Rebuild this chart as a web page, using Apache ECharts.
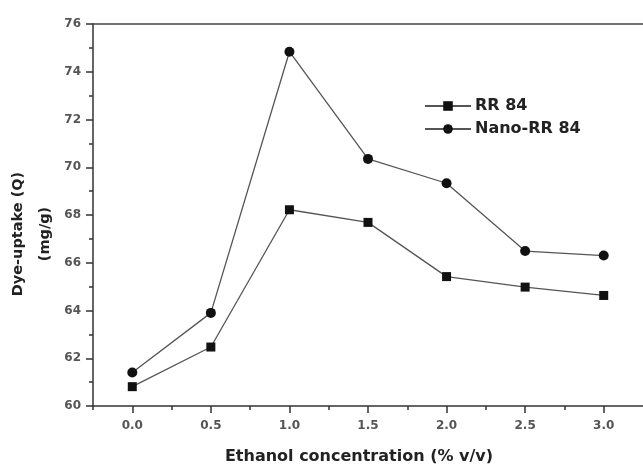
<!DOCTYPE html>
<html>
<head>
<meta charset="utf-8">
<script src="https://cdn.jsdelivr.net/npm/echarts@6/dist/echarts.min.js"></script>
<style>html,body{margin:0;padding:0;background:#fff}#c{width:643px;height:465px}</style>
</head>
<body>
<div id="c"></div>
<script>
const concentrations = [0.0, 0.5, 1.0, 1.5, 2.0, 2.5, 3.0];
const rr84 = [60.81, 62.47, 68.22, 67.69, 65.42, 64.98, 64.63];
const nanoRR84 = [61.40, 63.90, 74.84, 70.35, 69.33, 66.49, 66.30];
const xMajorTicks = [0.0, 0.5, 1.0, 1.5, 2.0, 2.5, 3.0];
const xMinorTicks = [-0.25, 0.25, 0.75, 1.25, 1.75, 2.25, 2.75];
const seriesNames = ['RR 84', 'Nano-RR 84'];

const axisColor = '#333';
const lineColor = '#555';
const markColor = '#111';
const fontFam = '"DejaVu Sans", sans-serif';

const chart = echarts.init(document.getElementById('c'), null, {renderer: 'canvas'});
const pairs = (ys) => concentrations.map((x, i) => [x, ys[i]]);

chart.setOption({
  animation: false,
  backgroundColor: '#fff',
  grid: {left: 93, top: 24, right: 0, bottom: 59, containLabel: false, outerBoundsMode: 'none'},
  legend: {
    left: 424, top: 98, orient: 'vertical', padding: 0,
    itemWidth: 46, itemHeight: 12, itemGap: 7,
    data: seriesNames,
    textStyle: {fontFamily: fontFam, fontWeight: 'bold', fontSize: 16, color: '#222', padding: [0, 0, 0, -1]}
  },
  xAxis: [
    {
      type: 'value', min: -0.25, max: 3.25, interval: 0.25, position: 'bottom',
      axisLine: {show: true, onZero: false, lineStyle: {color: axisColor, width: 1.5}},
      axisTick: {show: true, inside: false, length: 7, customValues: xMajorTicks, lineStyle: {color: axisColor, width: 1.5}},
      axisLabel: {show: true, margin: 14, customValues: xMajorTicks, formatter: v => v.toFixed(1),
        fontFamily: fontFam, fontWeight: 'bold', fontSize: 12, color: '#555'},
      splitLine: {show: false},
      name: 'Ethanol concentration (% v/v)', nameLocation: 'middle', nameGap: 43, nameMoveOverlap: false,
      nameTextStyle: {fontFamily: fontFam, fontWeight: 'bold', fontSize: 16, color: '#222', padding: [0, 18, 0, 0]}
    },
    {
      type: 'value', min: -0.25, max: 3.25, interval: 0.25, position: 'bottom', offset: 0,
      axisLine: {show: false, onZero: false},
      axisTick: {show: true, length: 4, customValues: xMinorTicks, lineStyle: {color: axisColor, width: 1.5}},
      axisLabel: {show: false}, splitLine: {show: false}
    },
    {
      type: 'value', min: -0.25, max: 3.25, position: 'top',
      axisLine: {show: true, onZero: false, lineStyle: {color: '#444', width: 1.5}},
      axisTick: {show: false}, axisLabel: {show: false}, splitLine: {show: false}
    }
  ],
  yAxis: {
    type: 'value', min: 60, max: 76, interval: 2,
    axisLine: {show: true, onZero: false, lineStyle: {color: axisColor, width: 1.5}},
    axisTick: {show: true, length: 7, lineStyle: {color: axisColor, width: 1.5}},
    minorTick: {show: true, splitNumber: 2, length: 4, lineStyle: {color: axisColor, width: 1.5}},
    axisLabel: {margin: 12, fontFamily: fontFam, fontWeight: 'bold', fontSize: 12, color: '#555'},
    splitLine: {show: false},
    name: 'Dye-uptake (Q)\n(mg/g)', nameLocation: 'middle', nameGap: 34, nameMoveOverlap: false,
    nameTextStyle: {fontFamily: fontFam, fontWeight: 'bold', fontSize: 14.5, color: '#222', lineHeight: 27, padding: [0, 38, 0, 0]}
  },
  series: [
    {
      name: seriesNames[0], type: 'line', data: pairs(rr84), xAxisIndex: 0,
      symbol: 'rect', symbolSize: 9,
      itemStyle: {color: markColor, borderWidth: 0},
      lineStyle: {color: lineColor, width: 1.3}
    },
    {
      name: seriesNames[1], type: 'line', data: pairs(nanoRR84), xAxisIndex: 0,
      symbol: 'circle', symbolSize: 10,
      itemStyle: {color: markColor, borderWidth: 0},
      lineStyle: {color: lineColor, width: 1.3}
    }
  ]
});
</script>
</body>
</html>
